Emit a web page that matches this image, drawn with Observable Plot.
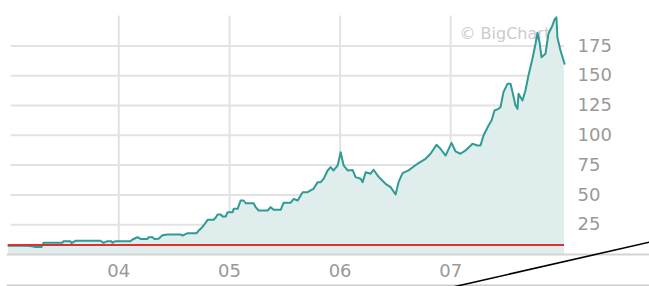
<!DOCTYPE html>
<html>
<head>
<meta charset="utf-8">
<script src="https://cdn.jsdelivr.net/npm/d3@7"></script>
<script src="https://cdn.jsdelivr.net/npm/@observablehq/plot@0.6"></script>
<style>
  html, body { margin: 0; padding: 0; background: #fff; }
  #chart svg { display: block; }
</style>
</head>
<body>
<div id="chart"></div>
<script>
// Time as decimal years, price values
const years = [
  2003.003, 2003.111, 2003.202, 2003.247, 2003.301, 2003.319, 2003.491, 2003.500,
  2003.563, 2003.572, 2003.609, 2003.835, 2003.862, 2003.898, 2003.934, 2003.943,
  2003.970, 2004.106, 2004.124, 2004.169, 2004.196, 2004.259, 2004.269, 2004.305,
  2004.323, 2004.359, 2004.395, 2004.440, 2004.558, 2004.576, 2004.621, 2004.703,
  2004.721, 2004.739, 2004.766, 2004.802, 2004.856, 2004.874, 2004.892, 2004.920,
  2004.938, 2004.965, 2004.983, 2005.028, 2005.037, 2005.073, 2005.100, 2005.127,
  2005.146, 2005.218, 2005.236, 2005.263, 2005.344, 2005.372, 2005.399, 2005.462,
  2005.489, 2005.552, 2005.580, 2005.616, 2005.661, 2005.706, 2005.733, 2005.760,
  2005.797, 2005.824, 2005.851, 2005.887, 2005.914, 2005.941, 2005.978, 2006.005,
  2006.032, 2006.068, 2006.113, 2006.140, 2006.186, 2006.204, 2006.231, 2006.276,
  2006.303, 2006.339, 2006.366, 2006.411, 2006.457, 2006.502, 2006.529, 2006.565,
  2006.619, 2006.665, 2006.710, 2006.773, 2006.818, 2006.872, 2006.908, 2006.954,
  2007.008, 2007.044, 2007.089, 2007.135, 2007.198, 2007.243, 2007.270, 2007.297,
  2007.343, 2007.370, 2007.397, 2007.433, 2007.451, 2007.478, 2007.514, 2007.542,
  2007.560, 2007.587, 2007.605, 2007.614, 2007.650, 2007.677, 2007.704, 2007.740,
  2007.768, 2007.786, 2007.804, 2007.822, 2007.858, 2007.885, 2007.921, 2007.939,
  2007.957, 2007.966, 2007.994, 2008.030
];
const prices = [
  7.3, 7.6, 7.2, 6.3, 6.3, 9.8, 9.8, 11.2,
  11.2, 9.5, 11.5, 11.5, 9.8, 11.2, 11.2, 9.8,
  11.2, 11.2, 12.6, 14.5, 13.1, 13.1, 14.5, 14.5,
  13.0, 13.2, 16.2, 16.8, 16.8, 15.9, 17.9, 17.9,
  20.1, 21.5, 24.3, 29.1, 29.1, 30.8, 33.6, 33.6,
  31.9, 31.9, 35.5, 35.5, 38.3, 38.3, 45.3, 45.3,
  43.0, 43.0, 39.7, 36.9, 36.9, 39.7, 37.5, 37.5,
  43.4, 43.4, 46.7, 45.3, 52.3, 52.3, 53.7, 55.1,
  60.7, 60.7, 63.5, 70.5, 73.3, 70.5, 74.7, 85.8,
  74.7, 70.5, 70.9, 64.9, 63.5, 60.7, 69.0, 67.8,
  71.1, 66.3, 63.5, 59.3, 56.5, 50.3, 60.7, 68.2,
  70.5, 73.8, 76.6, 80.3, 84.5, 92.0, 88.7, 83.0,
  93.7, 86.5, 84.5, 87.3, 92.9, 91.5, 91.5, 99.8,
  108.2, 112.4, 120.8, 122.2, 123.6, 136.2, 143.2, 143.2,
  136.2, 125.0, 122.2, 134.8, 129.2, 137.6, 150.2, 164.2,
  176.8, 186.0, 178.1, 165.5, 168.4, 185.2, 192.1, 197.0,
  199.0, 182.0, 171.2, 160.0
];
const yTicks = [25, 50, 75, 100, 125, 150, 175];
const xTickYears = [2004, 2005, 2006, 2007];
const referenceLevel = [8];
const watermark = ["\u00a9 BigCharts"];
const domainYears = [2003.0, 2008.03];
const yDomain = [0, 200];

function toDate(t) {
  const y = Math.floor(t);
  const a = Date.UTC(y, 0, 1), b = Date.UTC(y + 1, 0, 1);
  return new Date(a + (t - y) * (b - a));
}
const data = years.map((t, i) => ({date: toDate(t), price: prices[i]}));
const xTicks = xTickYears.map(y => new Date(Date.UTC(y, 0, 1)));

const grid = "#e2e2e2";
const labelColor = "#999999";

const plot = Plot.plot({
  width: 649,
  height: 286,
  marginLeft: 7.7,
  marginRight: 85,
  marginTop: 15.6,
  marginBottom: 32,
  style: {fontFamily: "'DejaVu Sans', Verdana, sans-serif", background: "#ffffff"},
  x: {type: "utc", domain: domainYears.map(toDate)},
  y: {domain: yDomain},
  marks: [
    Plot.ruleY(yTicks, {stroke: grid, strokeWidth: 2, insetLeft: 3}),
    Plot.ruleX(xTicks, {stroke: grid, strokeWidth: 2}),
    Plot.text(watermark, {frameAnchor: "top-right", dx: -6, dy: 12, fill: "#cccccc", fontSize: 16, textAnchor: "end"}),
    Plot.areaY(data, {x: "date", y: "price", fill: "#dfeeed"}),
    Plot.line(data, {x: "date", y: "price", stroke: "#2f9b94", strokeWidth: 2}),
    Plot.ruleY(referenceLevel, {stroke: "#d83333", strokeWidth: 2}),
    Plot.ruleY([0], {stroke: "#d4d4d4", strokeWidth: 2, insetRight: -85, insetLeft: -1}),
    Plot.ruleY([0], {stroke: "#cccccc", strokeWidth: 2, dy: 31, insetRight: -85, insetLeft: -1}),
    Plot.axisY(yTicks, {anchor: "right", tickSize: 0, tickPadding: 13, fontSize: 18, color: labelColor, label: null}),
    Plot.axisX(xTicks, {anchor: "bottom", tickSize: 0, tickPadding: 10, fontSize: 18, color: labelColor, tickFormat: d3.utcFormat("%y"), label: null})
  ]
});

// decorative diagonal stroke across the lower right corner of the picture
d3.select(plot).append("line")
  .attr("x1", 453).attr("y1", 287)
  .attr("x2", 650).attr("y2", 242)
  .attr("stroke", "#000").attr("stroke-width", 1.6);

document.getElementById("chart").appendChild(plot);
</script>
</body>
</html>
